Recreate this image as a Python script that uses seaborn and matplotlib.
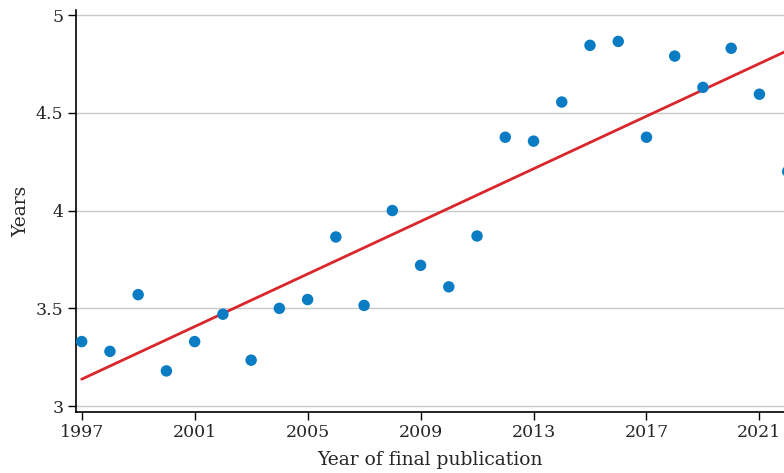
import numpy as np
import pandas as pd
import matplotlib
matplotlib.use("Agg")
import matplotlib.pyplot as plt
import seaborn as sns
from matplotlib.ticker import FuncFormatter

# Данные: год финальной публикации и среднее число лет
years = [1997, 1998, 1999, 2000, 2001, 2002, 2003, 2004, 2005, 2006, 2007, 2008, 2009,
         2010, 2011, 2012, 2013, 2014, 2015, 2016, 2017, 2018, 2019, 2020, 2021, 2022]
values = [3.33, 3.28, 3.57, 3.18, 3.33, 3.47, 3.235, 3.50, 3.545, 3.865, 3.515, 4.00, 3.72,
          3.61, 3.87, 4.375, 4.355, 4.555, 4.845, 4.865, 4.375, 4.79, 4.63, 4.83, 4.595, 4.20]
x_ticks = [1997, 2001, 2005, 2009, 2013, 2017, 2021]
y_ticks = [3, 3.5, 4, 4.5, 5]

df = pd.DataFrame({"year": years, "value": values})

sns.set_style("white")
plt.rcParams['font.family'] = ['DejaVu Serif']

fig = plt.figure(figsize=(7.84, 4.73), dpi=100)
ax = fig.add_axes([0.097, 0.129, 0.903, 0.85])

for t in y_ticks:
    ax.axhline(t, color='#c8c8c8', lw=1, zorder=0)

sns.regplot(data=df, x="year", y="value", ax=ax, ci=None,
            scatter_kws=dict(s=68, color='#0a7cc4', alpha=1, edgecolor='none', zorder=3),
            line_kws=dict(color='#d9262c', lw=2, zorder=2))

ax.set_xlim(1996.8, 2021.87)
ax.set_ylim(2.97, 5.026)
ax.set_xticks(x_ticks)
ax.set_yticks(y_ticks)
ax.yaxis.set_major_formatter(FuncFormatter(lambda v, p: f"{v:g}"))
ax.tick_params(axis='both', direction='out', length=6, width=1, color='black',
               labelsize=12.5, pad=3, bottom=True, left=True)
for side in ['top', 'right']:
    ax.spines[side].set_visible(False)
for side in ['left', 'bottom']:
    ax.spines[side].set_color('black')
    ax.spines[side].set_linewidth(1.2)

ax.set_xlabel("Year of final publication", fontsize=13.5, labelpad=7)
ax.set_ylabel("Years", fontsize=13.5, labelpad=4)

fig.savefig("out.png", dpi=100)
